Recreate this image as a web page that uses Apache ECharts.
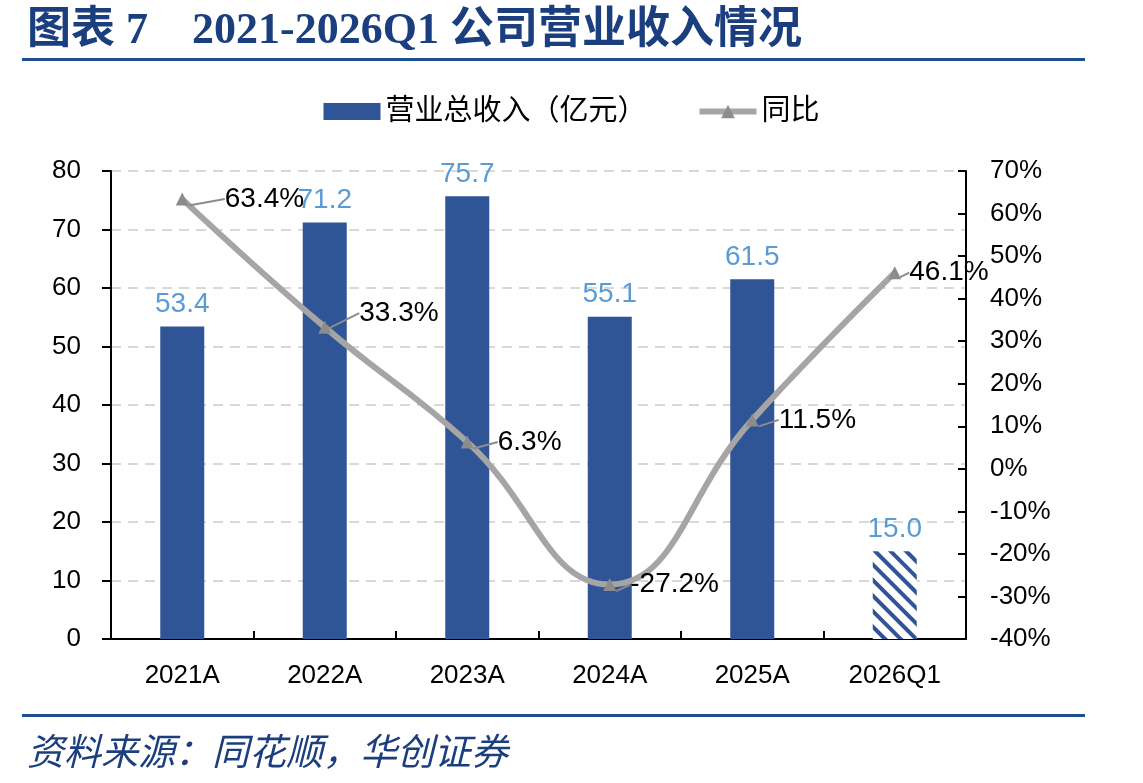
<!DOCTYPE html>
<html>
<head>
<meta charset="utf-8">
<script src="https://cdn.jsdelivr.net/npm/echarts@6/dist/echarts.min.js"></script>
<style>
  html, body { margin: 0; padding: 0; background: #fff; }
  #chart { width: 1143px; height: 783px; }
</style>
</head>
<body>
<div id="chart"></div>
<script>
// 数据
let categories = ['2021A', '2022A', '2023A', '2024A', '2025A', '2026Q1'];
let revenue = [53.4, 71.2, 75.7, 55.1, 61.5, 15.0];
let yoy = [63.4, 33.3, 6.3, -27.2, 11.5, 46.1];

let darkBlue = '#2F5597';
let titleBlue = '#1B3F7E';
let cnFont = '"Liberation Serif", "Noto Sans CJK SC", serif';
let sans = 'Arial, "Liberation Sans", "Noto Sans CJK SC", sans-serif';

let barData = revenue.map(function (v, i) {
    if (i === revenue.length - 1) {
        // 最后一季用斜线填充
        return {
            value: v,
            itemStyle: {
                color: '#ffffff',
                decal: {
                    symbol: 'rect',
                    color: darkBlue,
                    dashArrayX: [1, 0],
                    dashArrayY: [4, 7],
                    rotation: Math.PI / 4
                }
            }
        };
    }
    return v;
});

let option = {
    animation: false,
    backgroundColor: '#fff',
    textStyle: { fontFamily: sans },
    title: [
        {
            text: '图表 7    2021-2026Q1 公司营业收入情况',
            left: 22,
            top: 5,
            textStyle: { color: titleBlue, fontSize: 44, fontWeight: 'bold', fontFamily: cnFont }
        },
        {
            text: '资料来源：同花顺，华创证券',
            left: 22,
            top: 727,
            textStyle: { color: titleBlue, fontSize: 37, fontWeight: 'normal', fontStyle: 'italic', fontFamily: '"Noto Sans CJK SC", sans-serif' }
        }
    ],
    graphic: [
        { type: 'rect', shape: { x: 22, y: 58, width: 1063, height: 3 }, style: { fill: '#1F4E8C' } },
        { type: 'rect', shape: { x: 22, y: 714, width: 1063, height: 3 }, style: { fill: '#1F4E8C' } }
    ],
    legend: {
        top: 92,
        left: 'center',
        itemGap: 50,
        textStyle: { fontSize: 29, color: '#000' },
        data: [
            { name: '营业总收入（亿元）', icon: 'rect', itemStyle: { color: darkBlue, decal: 'none' } },
            { name: '同比', lineStyle: { width: 6, color: '#A5A5A5' } }
        ],
        itemWidth: 57,
        itemHeight: 17
    },
    grid: { left: 111, right: 177, top: 171, bottom: 144 },
    xAxis: {
        type: 'category',
        data: categories,
        axisLine: { lineStyle: { color: '#000', width: 2 } },
        axisTick: { show: true, inside: true, length: 8, lineStyle: { color: '#000', width: 2 } },
        axisLabel: { fontSize: 26, color: '#000', margin: 24 }
    },
    yAxis: [
        {
            type: 'value',
            min: 0, max: 80, interval: 10,
            axisLine: { show: true, lineStyle: { color: '#000', width: 2 } },
            axisTick: { show: true, length: 9, lineStyle: { color: '#000', width: 2 } },
            axisLabel: { fontSize: 26, color: '#000', margin: 30 },
            splitLine: { show: true, lineStyle: { color: '#D9D9D9', type: [10, 7], width: 2 } }
        },
        {
            type: 'value',
            min: -40, max: 70, interval: 10,
            axisLine: { show: true, lineStyle: { color: '#000', width: 2 } },
            axisTick: { show: true, inside: true, length: 8, lineStyle: { color: '#000', width: 2 } },
            axisLabel: { fontSize: 26, color: '#000', margin: 24, formatter: '{value}%' },
            splitLine: { show: false }
        }
    ],
    series: [
        {
            name: '营业总收入（亿元）',
            type: 'bar',
            barWidth: 44,
            itemStyle: { color: darkBlue },
            label: {
                show: true, position: 'top', distance: 8, fontSize: 28, color: '#5B9BD5',
                formatter: function (p) { return p.value.toFixed(1); }
            },
            data: barData
        },
        {
            name: '同比',
            type: 'line',
            yAxisIndex: 1,
            smooth: 0.45,
            symbol: 'triangle',
            symbolSize: 13,
            lineStyle: { color: '#A5A5A5', width: 6 },
            itemStyle: { color: '#8C8C8C' },
            label: {
                show: true,
                position: 'right',
                distance: 4,
                fontSize: 28,
                color: '#000',
                formatter: function (p) { return p.value.toFixed(1) + '%'; }
            },
            labelLine: { show: true, lineStyle: { color: '#8C8C8C', width: 2 } },
            labelLayout: function (params) {
                let offs = [[32, 0], [24, -14], [20, 0], [10, 0], [16, 0], [4, 0]];
                let o = offs[params.dataIndex];
                return { dx: o[0], dy: o[1] };
            },
            data: yoy
        }
    ]
};

let myChart = echarts.init(document.getElementById('chart'));
myChart.setOption(option);
</script>
</body>
</html>
